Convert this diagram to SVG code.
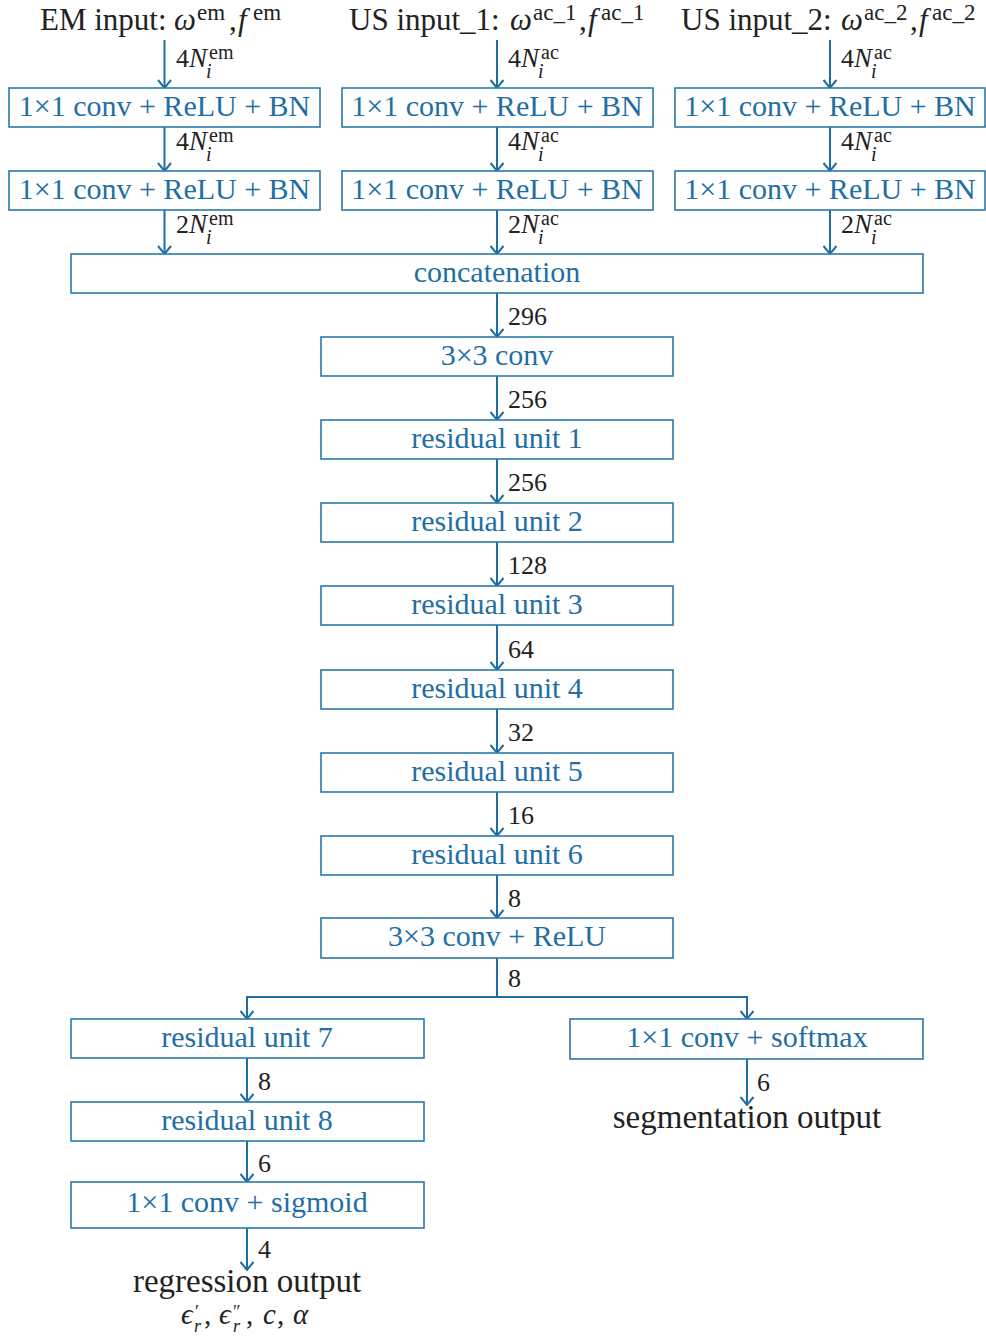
<svg xmlns="http://www.w3.org/2000/svg" width="986" height="1340" viewBox="0 0 986 1340">
<defs>
<marker id="ah" markerUnits="userSpaceOnUse" markerWidth="20" markerHeight="20" refX="0" refY="0" viewBox="-10 -10 20 20" orient="auto">
<path d="M-8,-6.5 L0,0 L-8,6.5" fill="none" stroke="#1f6ea3" stroke-width="2"/>
</marker>
<style>
.box{fill:#fff;stroke:#2b79ab;stroke-width:1.6}
.bt{font-family:"Liberation Serif",serif;font-size:30px;fill:#1f6fa5;text-anchor:middle}
.lb{font-family:"Liberation Serif",serif;font-size:26px;fill:#222}
.sm{font-size:20px}
.it{font-style:italic}
.ti{font-family:"Liberation Serif",serif;font-size:31px;fill:#222}
.eq{font-family:"Liberation Serif",serif;font-size:29px;fill:#222}
.sup{font-family:"Liberation Serif",serif;font-size:23px;fill:#222}
.ss{font-family:"Liberation Serif",serif;font-size:18px;fill:#222}
.out{font-family:"Liberation Serif",serif;font-size:33px;fill:#222;text-anchor:middle}
.con{stroke:#1f6ea3;stroke-width:2;fill:none}
</style>
</defs>
<rect width="986" height="1340" fill="#fff"/>

<g id="titles">
<text class="ti" x="40" y="30">EM input:</text>
<text class="ti it" x="174" y="30">ω</text><text class="sup" x="197" y="20">em</text><text class="ti" x="229" y="30">,</text><text class="ti it" x="238" y="30">f</text><text class="sup" x="253" y="20">em</text>
<text class="ti" x="349" y="30">US input_1:</text>
<text class="ti it" x="510" y="30">ω</text><text class="sup" x="533" y="20">ac_1</text><text class="ti" x="579" y="30">,</text><text class="ti it" x="588" y="30">f</text><text class="sup" x="601" y="20">ac_1</text>
<text class="ti" x="681" y="30">US input_2:</text>
<text class="ti it" x="841" y="30">ω</text><text class="sup" x="864" y="20">ac_2</text><text class="ti" x="910" y="30">,</text><text class="ti it" x="919" y="30">f</text><text class="sup" x="932" y="20">ac_2</text>
</g>

<g id="connectors">
<line class="con" x1="164.5" y1="40" x2="164.5" y2="88" marker-end="url(#ah)"/>
<line class="con" x1="497" y1="40" x2="497" y2="88" marker-end="url(#ah)"/>
<line class="con" x1="830" y1="40" x2="830" y2="88" marker-end="url(#ah)"/>
<line class="con" x1="164.5" y1="127" x2="164.5" y2="171" marker-end="url(#ah)"/>
<line class="con" x1="497" y1="127" x2="497" y2="171" marker-end="url(#ah)"/>
<line class="con" x1="830" y1="127" x2="830" y2="171" marker-end="url(#ah)"/>
<line class="con" x1="164.5" y1="210" x2="164.5" y2="254" marker-end="url(#ah)"/>
<line class="con" x1="497" y1="210" x2="497" y2="254" marker-end="url(#ah)"/>
<line class="con" x1="830" y1="210" x2="830" y2="254" marker-end="url(#ah)"/>
<line class="con" x1="497" y1="293" x2="497" y2="337" marker-end="url(#ah)"/>
<line class="con" x1="497" y1="376" x2="497" y2="420" marker-end="url(#ah)"/>
<line class="con" x1="497" y1="459" x2="497" y2="503" marker-end="url(#ah)"/>
<line class="con" x1="497" y1="542" x2="497" y2="586" marker-end="url(#ah)"/>
<line class="con" x1="497" y1="625" x2="497" y2="670" marker-end="url(#ah)"/>
<line class="con" x1="497" y1="709" x2="497" y2="753" marker-end="url(#ah)"/>
<line class="con" x1="497" y1="792" x2="497" y2="836" marker-end="url(#ah)"/>
<line class="con" x1="497" y1="875" x2="497" y2="918" marker-end="url(#ah)"/>
<path class="con" d="M497,958 V997 H247 V1019" marker-end="url(#ah)"/>
<path class="con" d="M497,997 H747 V1019" marker-end="url(#ah)"/>
<line class="con" x1="247" y1="1058" x2="247" y2="1102" marker-end="url(#ah)"/>
<line class="con" x1="247" y1="1141" x2="247" y2="1182" marker-end="url(#ah)"/>
<line class="con" x1="247" y1="1228" x2="247" y2="1270" marker-end="url(#ah)"/>
<line class="con" x1="747" y1="1059" x2="747" y2="1105" marker-end="url(#ah)"/>
</g>

<g id="edge-labels">
<text class="lb" x="176" y="67">4<tspan class="it" font-size="27">N</tspan></text><text class="lb sm" x="209" y="59">em</text><text class="lb sm it" x="206" y="78">i</text>
<text class="lb" x="176" y="150">4<tspan class="it" font-size="27">N</tspan></text><text class="lb sm" x="209" y="142">em</text><text class="lb sm it" x="206" y="161">i</text>
<text class="lb" x="176" y="233">2<tspan class="it" font-size="27">N</tspan></text><text class="lb sm" x="209" y="225">em</text><text class="lb sm it" x="206" y="244">i</text>
<text class="lb" x="508" y="67">4<tspan class="it" font-size="27">N</tspan></text><text class="lb sm" x="541" y="59">ac</text><text class="lb sm it" x="538" y="78">i</text>
<text class="lb" x="508" y="150">4<tspan class="it" font-size="27">N</tspan></text><text class="lb sm" x="541" y="142">ac</text><text class="lb sm it" x="538" y="161">i</text>
<text class="lb" x="508" y="233">2<tspan class="it" font-size="27">N</tspan></text><text class="lb sm" x="541" y="225">ac</text><text class="lb sm it" x="538" y="244">i</text>
<text class="lb" x="841" y="67">4<tspan class="it" font-size="27">N</tspan></text><text class="lb sm" x="874" y="59">ac</text><text class="lb sm it" x="871" y="78">i</text>
<text class="lb" x="841" y="150">4<tspan class="it" font-size="27">N</tspan></text><text class="lb sm" x="874" y="142">ac</text><text class="lb sm it" x="871" y="161">i</text>
<text class="lb" x="841" y="233">2<tspan class="it" font-size="27">N</tspan></text><text class="lb sm" x="874" y="225">ac</text><text class="lb sm it" x="871" y="244">i</text>
<text class="lb" x="508" y="325">296</text>
<text class="lb" x="508" y="408">256</text>
<text class="lb" x="508" y="491">256</text>
<text class="lb" x="508" y="574">128</text>
<text class="lb" x="508" y="658">64</text>
<text class="lb" x="508" y="741">32</text>
<text class="lb" x="508" y="824">16</text>
<text class="lb" x="508" y="907">8</text>
<text class="lb" x="508" y="987">8</text>
<text class="lb" x="258" y="1090">8</text>
<text class="lb" x="258" y="1172">6</text>
<text class="lb" x="258" y="1258">4</text>
<text class="lb" x="757" y="1091">6</text>
</g>

<g id="n-em1"><rect class="box" x="9" y="88" width="311" height="39"/><text class="bt" x="164.5" y="116">1×1 conv + ReLU + BN</text></g>
<g id="n-us1a"><rect class="box" x="342" y="88" width="311" height="39"/><text class="bt" x="497" y="116">1×1 conv + ReLU + BN</text></g>
<g id="n-us2a"><rect class="box" x="675" y="88" width="310" height="39"/><text class="bt" x="830" y="116">1×1 conv + ReLU + BN</text></g>
<g id="n-em2"><rect class="box" x="9" y="171" width="311" height="39"/><text class="bt" x="164.5" y="199">1×1 conv + ReLU + BN</text></g>
<g id="n-us1b"><rect class="box" x="342" y="171" width="311" height="39"/><text class="bt" x="497" y="199">1×1 conv + ReLU + BN</text></g>
<g id="n-us2b"><rect class="box" x="675" y="171" width="310" height="39"/><text class="bt" x="830" y="199">1×1 conv + ReLU + BN</text></g>
<g id="n-concat"><rect class="box" x="71" y="254" width="852" height="39"/><text class="bt" x="497" y="282">concatenation</text></g>
<g id="n-conv3"><rect class="box" x="321" y="337" width="352" height="39"/><text class="bt" x="497" y="365">3×3 conv</text></g>
<g id="n-r1"><rect class="box" x="321" y="420" width="352" height="39"/><text class="bt" x="497" y="448">residual unit 1</text></g>
<g id="n-r2"><rect class="box" x="321" y="503" width="352" height="39"/><text class="bt" x="497" y="531">residual unit 2</text></g>
<g id="n-r3"><rect class="box" x="321" y="586" width="352" height="39"/><text class="bt" x="497" y="614">residual unit 3</text></g>
<g id="n-r4"><rect class="box" x="321" y="670" width="352" height="39"/><text class="bt" x="497" y="698">residual unit 4</text></g>
<g id="n-r5"><rect class="box" x="321" y="753" width="352" height="39"/><text class="bt" x="497" y="781">residual unit 5</text></g>
<g id="n-r6"><rect class="box" x="321" y="836" width="352" height="39"/><text class="bt" x="497" y="864">residual unit 6</text></g>
<g id="n-conv3relu"><rect class="box" x="321" y="918" width="352" height="40"/><text class="bt" x="497" y="946">3×3 conv + ReLU</text></g>
<g id="n-r7"><rect class="box" x="71" y="1019" width="353" height="39"/><text class="bt" x="247" y="1047">residual unit 7</text></g>
<g id="n-softmax"><rect class="box" x="570" y="1019" width="353" height="40"/><text class="bt" x="747" y="1047">1×1 conv + softmax</text></g>
<g id="n-r8"><rect class="box" x="71" y="1102" width="353" height="39"/><text class="bt" x="247" y="1130">residual unit 8</text></g>
<g id="n-sigmoid"><rect class="box" x="71" y="1182" width="353" height="46"/><text class="bt" x="247" y="1212">1×1 conv + sigmoid</text></g>
<g id="out-seg"><text class="out" x="747" y="1128">segmentation output</text></g>
<g id="out-reg">
<text class="out" x="247" y="1292">regression output</text>
<text class="eq it" x="181" y="1324">ϵ</text><text class="ss" x="195" y="1318">′</text><text class="ss it" x="194" y="1332">r</text><text class="eq" x="204" y="1324">,</text>
<text class="eq it" x="219" y="1324">ϵ</text><text class="ss" x="233" y="1318">″</text><text class="ss it" x="233" y="1332">r</text><text class="eq" x="246" y="1324">,</text>
<text class="eq it" x="263" y="1324">c</text><text class="eq" x="277" y="1324">,</text>
<text class="eq it" x="293" y="1324">α</text>
</g>
</svg>
